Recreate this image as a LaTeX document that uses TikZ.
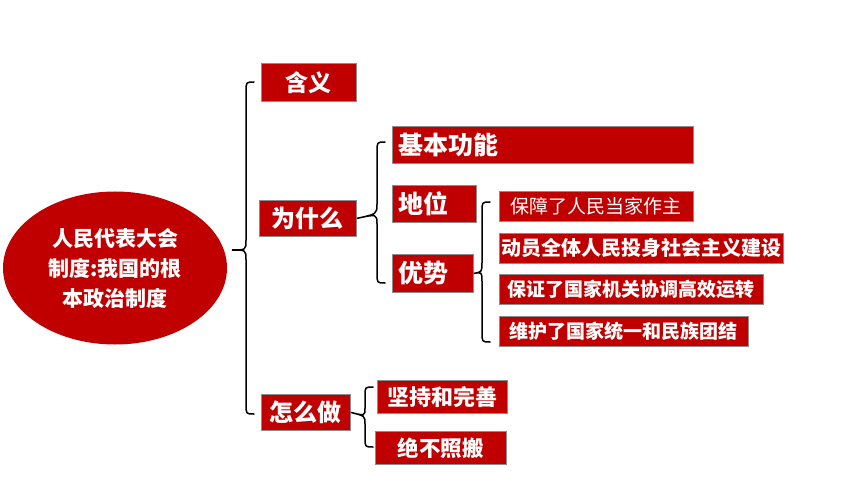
\documentclass[tikz,border=0pt]{standalone}
\usepackage{fontspec}
\newfontfamily\cjk{Noto Sans CJK SC}
\usetikzlibrary{shapes.geometric}
\definecolor{boxred}{HTML}{C00000}
\definecolor{boxline}{HTML}{8C8C8C}
\tikzset{
  box/.style={fill=boxred, draw=boxline, line width=0.8pt, text=white, inner sep=0pt, anchor=north west},
  leftbox/.style={box, align=left, inner xsep=6pt},
  brace/.style={draw=black, line width=1.5pt, line cap=round},
}
\begin{document}
\begin{tikzpicture}[x=1pt,y=-1pt]
\useasboundingbox (0,0) rectangle (860,484);
% root
\node[ellipse, fill=boxred, minimum width=224, minimum height=153, inner sep=0pt, text=white,
  font=\cjk\bfseries\fontsize{21}{30}\selectfont, align=center] (root) at (115,268)
  {人民代表大会\\制度:我国的根\\本政治制度};
% level 1
\node[box, minimum width=95, minimum height=38, font=\cjk\bfseries\fontsize{23}{26}\selectfont] (hanyi) at (261,63) {含义};
\node[box, minimum width=97, minimum height=36, font=\cjk\bfseries\fontsize{24}{26}\selectfont] (wsm) at (259,200) {为什么};
\node[box, minimum width=89, minimum height=36, font=\cjk\bfseries\fontsize{24}{26}\selectfont] (zmz) at (261,394) {怎么做};
% level 2 under 为什么
\node[leftbox, text width=289, minimum height=37, font=\cjk\bfseries\fontsize{25}{26}\selectfont] (jbgn) at (392,126) {基本功能};
\node[leftbox, text width=72, minimum height=37, font=\cjk\bfseries\fontsize{25}{26}\selectfont] (diwei) at (392,185) {地位};
\node[leftbox, text width=69, minimum height=38, font=\cjk\bfseries\fontsize{25}{26}\selectfont] (youshi) at (392,254) {优势};
% level 3 under 优势
\node[box, minimum width=194, minimum height=30, font=\cjk\fontsize{19}{22}\selectfont] (y1) at (499,191) {保障了人民当家作主};
\node[box, minimum width=284, minimum height=30, font=\cjk\bfseries\fontsize{20}{22}\selectfont] (y2) at (499,233) {动员全体人民投身社会主义建设};
\node[box, minimum width=264, minimum height=30, font=\cjk\bfseries\fontsize{19}{22}\selectfont] (y3) at (499,274) {保证了国家机关协调高效运转};
\node[box, minimum width=249, minimum height=30, font=\cjk\bfseries\fontsize{19}{22}\selectfont] (y4) at (499,316) {维护了国家统一和民族团结};
% level 2 under 怎么做
\node[box, minimum width=130, minimum height=33, font=\cjk\bfseries\fontsize{22}{24}\selectfont] (jc) at (377,380) {坚持和完善};
\node[box, minimum width=131, minimum height=33, font=\cjk\bfseries\fontsize{21.5}{24}\selectfont] (jbzb) at (375,431) {绝不照搬};
% brace 1: root -> 含义 / 为什么 / 怎么做
\coordinate (t1) at (232,250);
\coordinate (a1) at (254,82);
\coordinate (z1) at (254,414);
\draw[brace] (a1) .. controls (246,82) .. (246,92) -- (246,240)
  .. controls (246,250) .. (t1) .. controls (246,250) .. (246,260) -- (246,404)
  .. controls (246,414) .. (z1);
% brace 2: 为什么 -> 基本功能 / 地位 / 优势
\coordinate (t2) at (wsm.east);
\coordinate (a2) at (385,142);
\coordinate (z2) at (385,283);
\draw[brace] (a2) .. controls (377,142) .. (377,152) -- (377,204)
  .. controls (377,214) .. (t2) .. controls (377,214) .. (377,224) -- (377,273)
  .. controls (377,283) .. (z2);
% brace 3: 优势 -> four items
\coordinate (t3) at (youshi.east);
\coordinate (a3) at (490,202);
\coordinate (z3) at (490,342);
\draw[brace] (a3) .. controls (482,202) .. (482,212) -- (482,262)
  .. controls (482,272) .. (t3) .. controls (482,272) .. (482,282) -- (482,332)
  .. controls (482,342) .. (z3);
% brace 4: 怎么做 -> 坚持和完善 / 绝不照搬
\coordinate (t4) at (zmz.east);
\coordinate (a4) at (373,387);
\coordinate (z4) at (373,447);
\draw[brace] (a4) .. controls (365,387) .. (365,396) -- (365,408)
  .. controls (365,416) .. (t4) .. controls (365,416) .. (365,424) -- (365,438)
  .. controls (365,447) .. (z4);
\end{tikzpicture}
\end{document}
